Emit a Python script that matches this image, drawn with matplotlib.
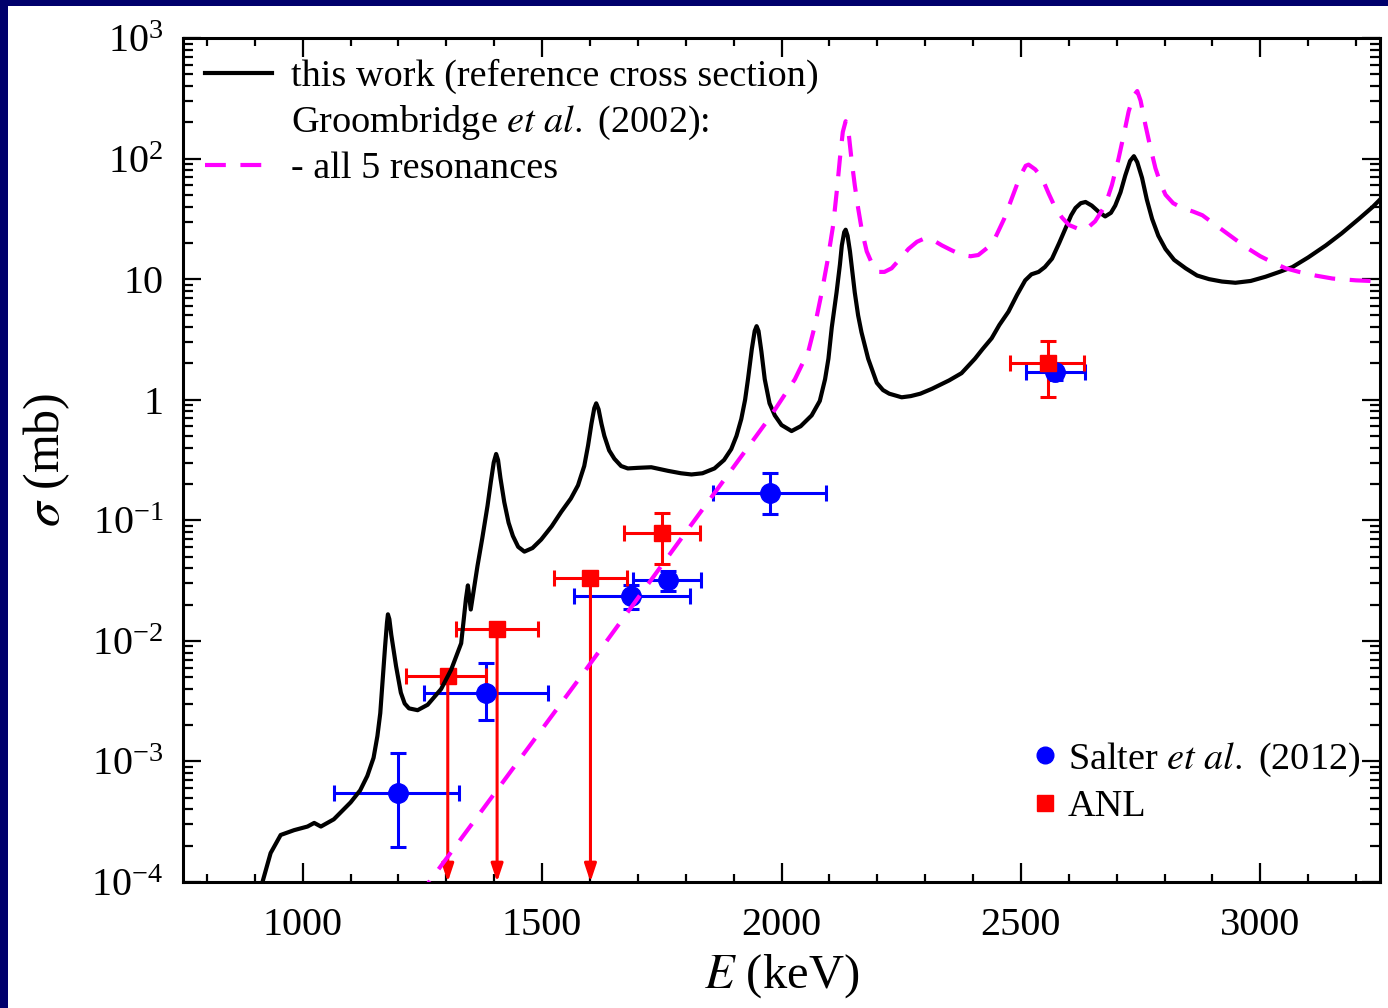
import numpy as np
import matplotlib
matplotlib.use("Agg")
import matplotlib.pyplot as plt
from matplotlib.patches import Rectangle
from matplotlib.ticker import FixedLocator, LogLocator, FuncFormatter, MultipleLocator, NullFormatter
from matplotlib.lines import Line2D

plt.rcParams['font.family'] = ['Liberation Serif', 'DejaVu Serif']
plt.rcParams['mathtext.fontset'] = 'stix'

# ---------------- data ----------------
# this work (reference cross section): energy (keV), log10(sigma / mb)
this_work_E = [905, 916, 933, 954, 982, 1010, 1024, 1038, 1065, 1100, 1120, 1135, 1148, 1156,
               1162, 1167, 1172, 1176, 1178, 1181, 1185, 1190, 1195, 1205, 1213, 1222, 1240,
               1261, 1289, 1310, 1331, 1341, 1345, 1351, 1365, 1375, 1386, 1393, 1399, 1404,
               1408, 1413, 1421, 1430, 1439, 1450, 1463, 1480, 1498, 1520, 1540, 1560, 1575,
               1588, 1596, 1603, 1609, 1613, 1618, 1624, 1630, 1640, 1651, 1665, 1679, 1700,
               1728, 1745, 1763, 1790, 1812, 1835, 1860, 1880, 1895, 1906, 1916, 1924, 1930,
               1938, 1944, 1948, 1952, 1958, 1965, 1975, 1986, 2000, 2021, 2040, 2063, 2080,
               2091, 2098, 2105, 2115, 2122, 2126, 2131, 2134, 2138, 2143, 2153, 2160, 2167,
               2181, 2190, 2199, 2212, 2225, 2251, 2270, 2290, 2314, 2350, 2376, 2404, 2420,
               2439, 2455, 2474, 2492, 2509, 2522, 2537, 2550, 2565, 2580, 2593, 2605, 2614,
               2625, 2635, 2648, 2662, 2676, 2688, 2697, 2708, 2718, 2728, 2736, 2743, 2753,
               2763, 2774, 2787, 2802, 2820, 2844, 2868, 2893, 2920, 2948, 2980, 3011, 3040,
               3067, 3100, 3137, 3170, 3206, 3235, 3260]
this_work_log10 = [-4.12, -4.0, -3.76, -3.61, -3.57, -3.54, -3.51, -3.54, -3.48, -3.34, -3.24, -3.12, -2.97, -2.79,
                   -2.60, -2.32, -2.05, -1.85, -1.78, -1.82, -1.95, -2.08, -2.21, -2.43, -2.52, -2.56, -2.575,
                   -2.53, -2.40, -2.24, -2.02, -1.65, -1.54, -1.74, -1.38, -1.15, -0.88, -0.68, -0.52, -0.45,
                   -0.50, -0.65, -0.85, -1.02, -1.13, -1.22, -1.26, -1.23, -1.16, -1.05, -0.93, -0.82, -0.71,
                   -0.55, -0.38, -0.20, -0.07, -0.03, -0.08, -0.20, -0.30, -0.42, -0.49, -0.55, -0.57, -0.565,
                   -0.56, -0.575, -0.59, -0.61, -0.62, -0.61, -0.57, -0.50, -0.41, -0.30, -0.16, 0.0, 0.17,
                   0.42, 0.57, 0.61, 0.57, 0.40, 0.17, -0.03, -0.13, -0.21, -0.26, -0.22, -0.13, -0.01,
                   0.17, 0.34, 0.60, 0.89, 1.12, 1.28, 1.39, 1.41, 1.36, 1.23, 0.89, 0.70, 0.56,
                   0.34, 0.24, 0.14, 0.08, 0.05, 0.02, 0.03, 0.05, 0.09, 0.16, 0.22, 0.34, 0.42,
                   0.51, 0.62, 0.73, 0.87, 0.99, 1.04, 1.06, 1.10, 1.17, 1.30, 1.42, 1.53, 1.59,
                   1.63, 1.64, 1.61, 1.56, 1.52, 1.55, 1.61, 1.72, 1.86, 1.98, 2.02, 1.97, 1.84,
                   1.66, 1.50, 1.36, 1.25, 1.16, 1.09, 1.03, 1.00, 0.98, 0.97, 0.985, 1.02, 1.06,
                   1.10, 1.18, 1.28, 1.38, 1.50, 1.60, 1.70]

# Groombridge et al. (2002) - all 5 resonances
groom_E = [1240, 1264, 1582, 1800, 1975, 2028, 2056, 2070, 2084, 2096, 2108, 2116, 2122, 2128,
           2134, 2140, 2146, 2153, 2160, 2168, 2178, 2190, 2202, 2215, 2230, 2248, 2265, 2283,
           2300, 2318, 2335, 2355, 2377, 2395, 2411, 2430, 2446, 2465, 2481, 2498, 2510, 2516,
           2530, 2544, 2558, 2572, 2586, 2600, 2618, 2635, 2655, 2676, 2690, 2704, 2715, 2725,
           2735, 2743, 2750, 2760, 2770, 2781, 2792, 2802, 2818, 2837, 2860, 2879, 2903, 2927,
           2951, 2976, 3000, 3025, 3053, 3081, 3115, 3151, 3200, 3260]
groom_log10 = [-4.13, -4.0, -2.29, -1.10, -0.15, 0.17, 0.40, 0.62, 0.89, 1.15, 1.45, 1.75, 2.00, 2.22,
               2.31, 2.22, 2.00, 1.78, 1.59, 1.40, 1.23, 1.12, 1.06, 1.06, 1.09, 1.17, 1.25, 1.31,
               1.34, 1.32, 1.28, 1.24, 1.20, 1.19, 1.20, 1.26, 1.34, 1.50, 1.67, 1.85, 1.94, 1.95,
               1.91, 1.84, 1.71, 1.59, 1.51, 1.45, 1.42, 1.41, 1.48, 1.61, 1.78, 2.00, 2.20, 2.39,
               2.52, 2.56, 2.48, 2.28, 2.10, 1.92, 1.79, 1.70, 1.63, 1.59, 1.56, 1.53, 1.46, 1.39,
               1.32, 1.25, 1.19, 1.14, 1.09, 1.06, 1.03, 1.005, 0.99, 0.98]

# Salter et al. (2012)
salter_E = [1198, 1383, 1686, 1763, 1976, 2572]
salter_E_lo = [1066, 1254, 1566, 1690, 1857, 2510]
salter_E_hi = [1327, 1512, 1808, 1831, 2092, 2633]
salter_sigma = [5.5e-4, 3.7e-3, 0.0234, 0.032, 0.17, 1.7]
salter_sigma_lo = [1.96e-4, 2.2e-3, 0.0182, 0.0257, 0.112, 1.45]
salter_sigma_hi = [1.17e-3, 6.6e-3, 0.0288, 0.038, 0.245, 2.0]

# ANL
anl_E = [1303, 1406, 1601, 1750, 2556]
anl_E_lo = [1215, 1320, 1524, 1672, 2478]
anl_E_hi = [1383, 1491, 1678, 1829, 2631]
anl_sigma = [5.1e-3, 0.0125, 0.033, 0.078, 2.0]
anl_sigma_lo = [np.nan, np.nan, np.nan, 0.043, 1.05]
anl_sigma_hi = [np.nan, np.nan, np.nan, 0.115, 3.05]
anl_upper_limit = [True, True, True, False, False]

x_limits = (750, 3250)
y_limits = (1e-4, 1e3)
x_major_ticks = [1000, 1500, 2000, 2500, 3000]
y_major_ticks = [1e-4, 1e-3, 1e-2, 1e-1, 1, 10, 1e2, 1e3]

# ---------------- figure ----------------
W, H = 1388, 1008
fig = plt.figure(figsize=(W / 100, H / 100), dpi=100)
fig.patch.set_facecolor('#00006c')
fig.patches.append(Rectangle((8 / W, 0), 1, (H - 6) / H, transform=fig.transFigure,
                             facecolor='white', edgecolor='none', zorder=-10))

ax = fig.add_axes([183 / W, 126 / H, (1380 - 183) / W, (970 - 126) / H])
ax.set_zorder(1)
ax.patch.set_alpha(0)
ax.set_yscale('log')
ax.set_xlim(*x_limits)
ax.set_ylim(*y_limits)

blue = '#0000ff'
red = '#ff0000'

# Salter
sE = np.array(salter_E, float)
sS = np.array(salter_sigma, float)
ax.errorbar(sE, sS,
            xerr=[sE - np.array(salter_E_lo), np.array(salter_E_hi) - sE],
            yerr=[sS - np.array(salter_sigma_lo), np.array(salter_sigma_hi) - sS],
            fmt='o', color=blue, ms=14, elinewidth=2.2, capsize=6, capthick=2.2, zorder=4)

# ANL
aE = np.array(anl_E, float)
aS = np.array(anl_sigma, float)
alo = np.array(anl_sigma_lo, float)
ahi = np.array(anl_sigma_hi, float)
yerr_lo = np.where(np.isnan(alo), 0, aS - np.nan_to_num(alo))
yerr_hi = np.where(np.isnan(ahi), 0, np.nan_to_num(ahi) - aS)
ax.errorbar(aE, aS,
            xerr=[aE - np.array(anl_E_lo), np.array(anl_E_hi) - aE],
            fmt='none', ecolor=red, elinewidth=2.2, capsize=6, capthick=2.2, zorder=4)
mask = ~np.array(anl_upper_limit)
ax.errorbar(aE[mask], aS[mask], yerr=[yerr_lo[mask], yerr_hi[mask]],
            fmt='none', ecolor=red, elinewidth=2.2, capsize=6, capthick=2.2, zorder=4)
for e, s, ul in zip(anl_E, anl_sigma, anl_upper_limit):
    if ul:
        ax.annotate('', xy=(e, y_limits[0]), xytext=(e, s),
                    arrowprops=dict(arrowstyle='-|>,head_length=0.9,head_width=0.3',
                                    color=red, lw=2.2, shrinkA=0, shrinkB=0,
                                    mutation_scale=12), zorder=4)
ax.plot(aE, aS, 's', color=red, ms=12, zorder=5)

# curves
ax.plot(this_work_E, 10 ** np.array(this_work_log10), color='black', lw=3, zorder=6,
        solid_joinstyle='round')
ax.plot(groom_E, 10 ** np.array(groom_log10), color='#ff00ff', lw=3, ls=(0, (5, 3.5)),
        zorder=6)

# ticks
ax.xaxis.set_major_locator(FixedLocator(x_major_ticks))
ax.xaxis.set_minor_locator(MultipleLocator(100))
ax.yaxis.set_major_locator(FixedLocator(y_major_ticks))
ax.yaxis.set_minor_locator(LogLocator(base=10, subs=np.arange(2, 10), numticks=20))
ax.yaxis.set_minor_formatter(NullFormatter())


def yfmt(v, pos):
    if np.isclose(v, 1):
        return '1'
    if np.isclose(v, 10):
        return '10'
    return r'$\mathregular{10^{%d}}$' % int(round(np.log10(v)))


ax.yaxis.set_major_formatter(FuncFormatter(yfmt))
ax.tick_params(which='both', direction='in', top=True, right=True, width=1.6, colors='black',
               labelsize=29)
ax.tick_params(axis='x', which='major', length=14, pad=18)
ax.tick_params(axis='x', which='minor', length=6)
ax.tick_params(axis='y', which='major', length=13, pad=14)
ax.tick_params(axis='y', which='minor', length=7)
for sp in ax.spines.values():
    sp.set_linewidth(2.2)

ax.set_xlabel(r'$E$ (keV)', fontsize=35, labelpad=6)
ax.set_ylabel(r'$\sigma$ (mb)', fontsize=36, labelpad=14)

# legends
h1 = Line2D([], [], color='black', lw=3)
h2 = Line2D([], [], color='none')
h3 = Line2D([], [], color='#ff00ff', lw=3, ls=(0, (5, 3.5)))
leg1 = ax.legend([h1, h2, h3],
                 ['this work (reference cross section)',
                  r'Groombridge $\mathit{et\ al.}$ (2002):',
                  '- all 5 resonances'],
                 loc='upper left', bbox_to_anchor=(0.012, 0.984), borderaxespad=0,
                 frameon=False, fontsize=27.5, handlelength=1.75, handletextpad=0.5,
                 labelspacing=0.25, borderpad=0.2)
ax.add_artist(leg1)

m1 = Line2D([], [], marker='o', color=blue, ls='none', ms=12)
m2 = Line2D([], [], marker='s', color=red, ls='none', ms=11)
ax.legend([m1, m2], [r'Salter $\mathit{et\ al.}$ (2012)', 'ANL'],
          loc='upper left', bbox_to_anchor=(0.704, 0.177), borderaxespad=0,
          frameon=False, fontsize=27.5, handlelength=0.6, handletextpad=0.3,
          labelspacing=0.28, borderpad=0.2)

fig.savefig('out.png', dpi=100, facecolor=fig.get_facecolor())
